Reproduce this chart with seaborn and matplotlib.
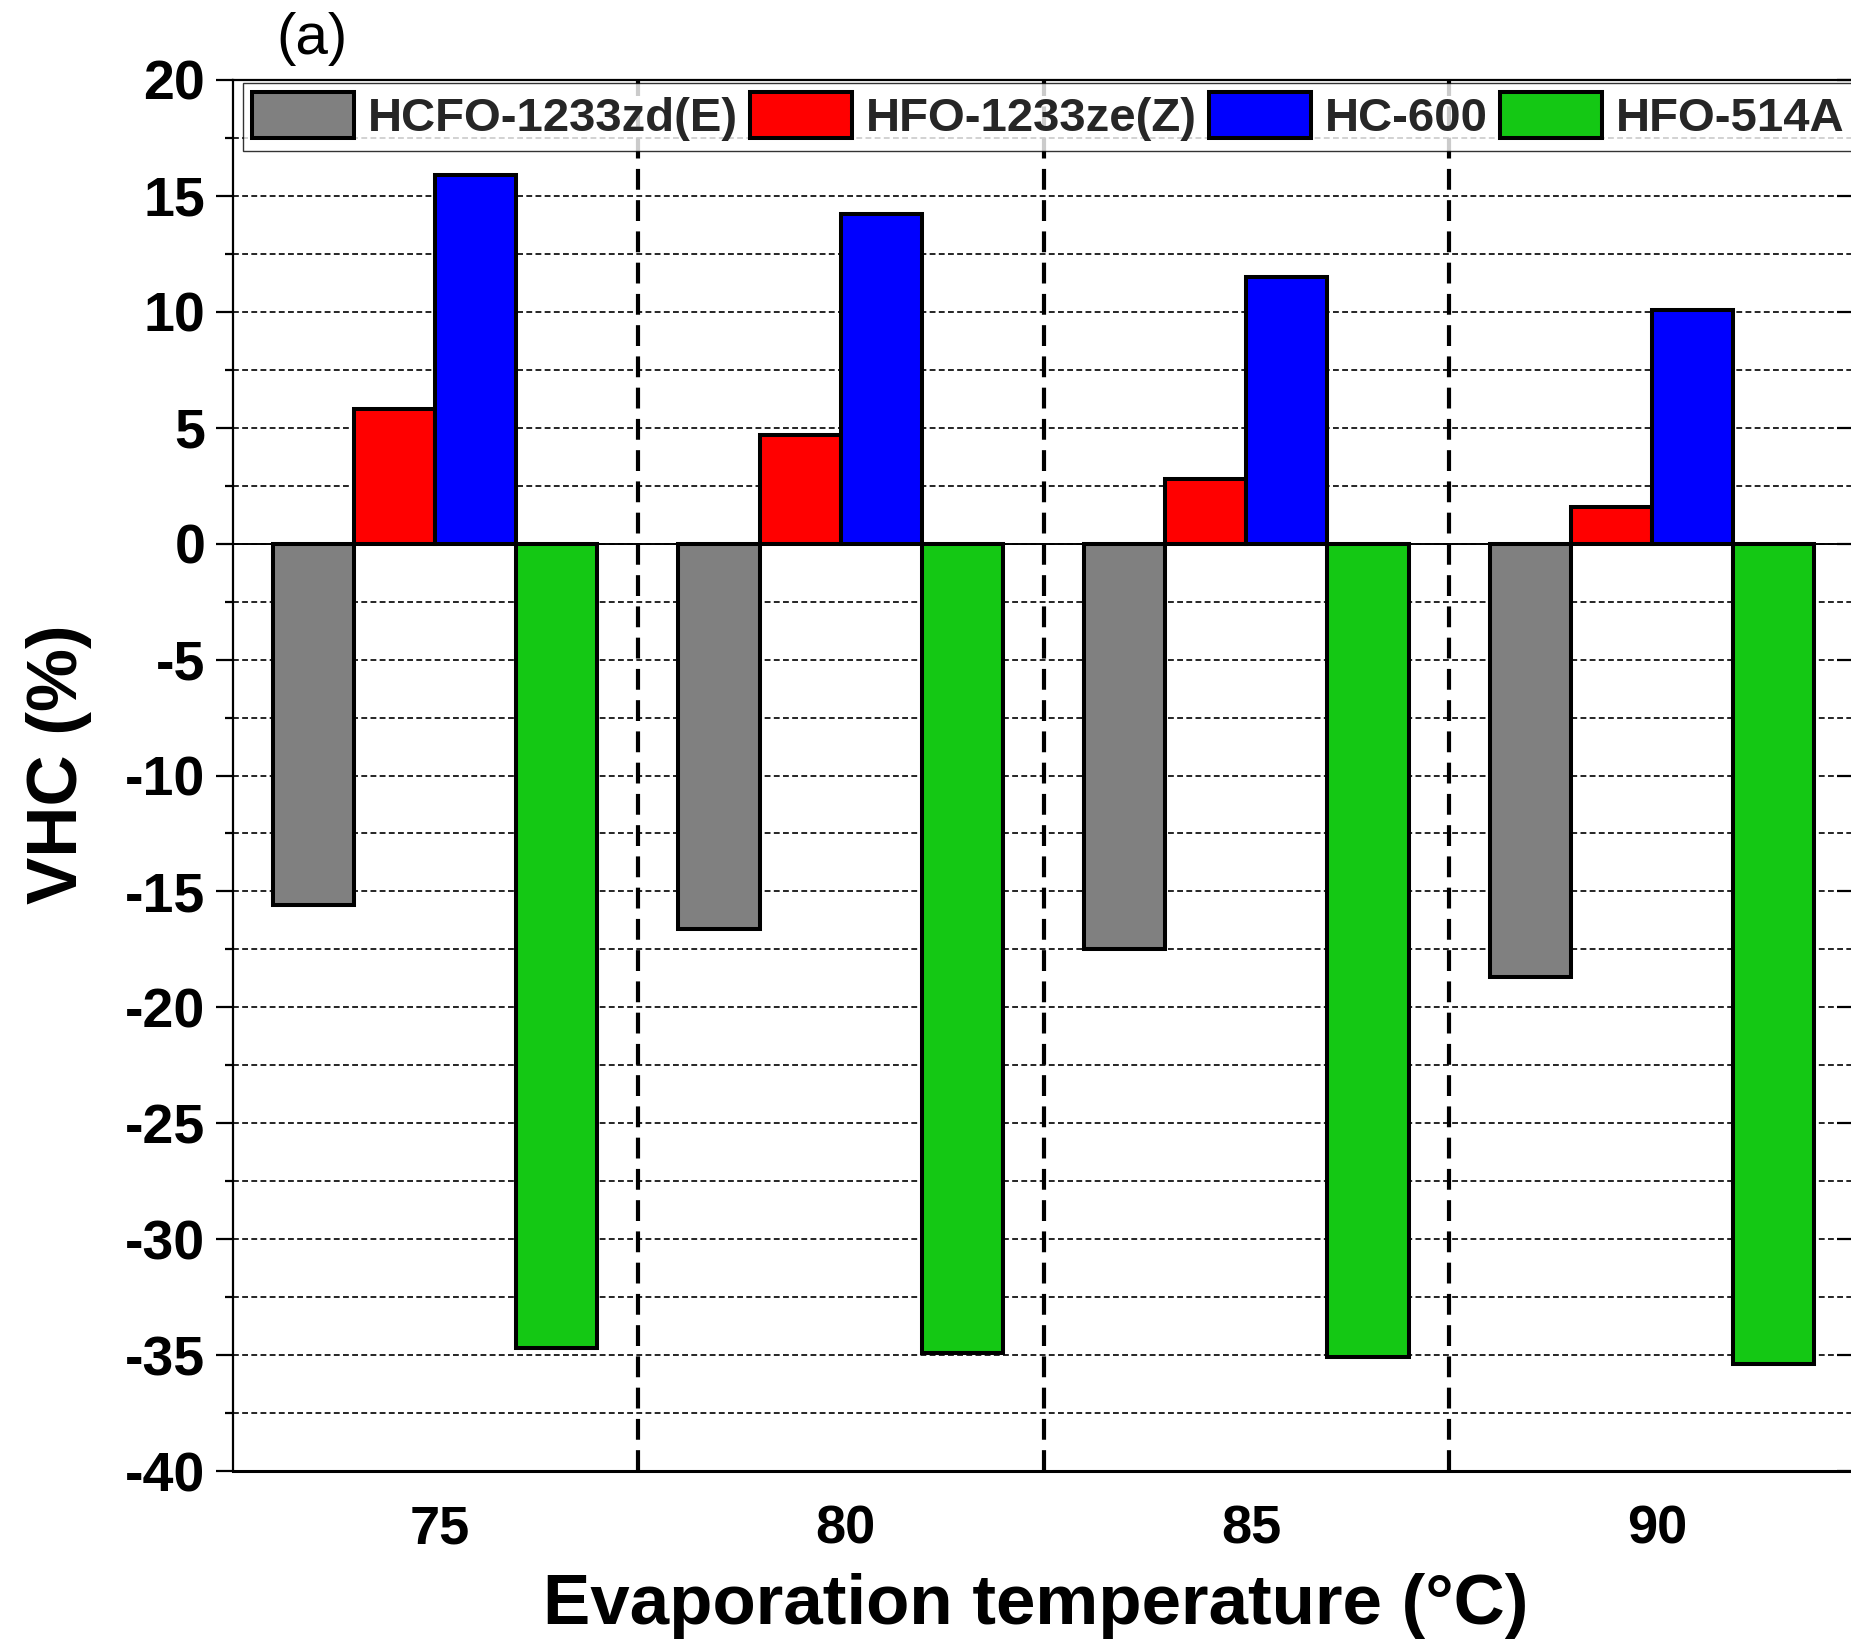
import matplotlib
matplotlib.use("Agg")
import matplotlib.pyplot as plt
import matplotlib.transforms as mtransforms
import seaborn as sns
import pandas as pd
from matplotlib.ticker import MultipleLocator

# Evaporation temperatures (°C) and refrigerants compared against the baseline
temperatures = ["75", "80", "85", "90"]
refrigerants = ["HCFO-1233zd(E)", "HFO-1233ze(Z)", "HC-600", "HFO-514A"]

# Relative volumetric heating capacity (%)
vhc_hcfo_1233zd_e = [-15.6, -16.6, -17.5, -18.7]
vhc_hfo_1233ze_z = [5.8, 4.7, 2.8, 1.6]
vhc_hc_600 = [15.9, 14.2, 11.5, 10.1]
vhc_hfo_514a = [-34.7, -34.9, -35.1, -35.4]

bar_colors = ["#808080", "#FF0000", "#0000FF", "#14C814"]

series = [vhc_hcfo_1233zd_e, vhc_hfo_1233ze_z, vhc_hc_600, vhc_hfo_514a]
rows = []
for name, values in zip(refrigerants, series):
    for t, v in zip(temperatures, values):
        rows.append({"temp": t, "vhc": v, "refrigerant": name})
df = pd.DataFrame(rows)

sns.set_theme(style="white")
plt.rcParams["font.family"] = ["Liberation Sans", "DejaVu Sans"]
plt.rcParams["font.weight"] = "bold"
plt.rcParams["axes.labelweight"] = "bold"
plt.rcParams["axes.unicode_minus"] = False

fig = plt.figure(figsize=(18.51, 16.43), dpi=100)
ax = fig.add_axes([233 / 1851, 1 - 1471 / 1643, 1621 / 1851, (1471 - 80) / 1643])

sns.barplot(
    data=df, x="temp", y="vhc", hue="refrigerant",
    order=temperatures, hue_order=refrigerants,
    palette=bar_colors, saturation=1, width=0.8,
    edgecolor="black", linewidth=2.9, errorbar=None, ax=ax, zorder=3,
)

ax.set_xlim(-0.498, 3.498)
ax.set_ylim(-40, 20)
ax.yaxis.set_major_locator(MultipleLocator(5))
ax.yaxis.set_minor_locator(MultipleLocator(2.5))

# dashed horizontal grid at every 2.5 %, solid zero line
ax.set_axisbelow(True)
ax.yaxis.grid(True, which="both", color="black", lw=1.2, ls=(0, (3.5, 2)))
ax.xaxis.grid(False)
ax.axhline(0, color="black", lw=1.4, zorder=2)

# dashed separators between temperature groups
for xs in [0.5, 1.5, 2.5]:
    ax.axvline(xs, color="black", lw=3.0, ls=(0, (5, 2.5)), zorder=2)

for side, lw in [("left", 1.6), ("bottom", 2.2), ("top", 1.6), ("right", 1.6)]:
    ax.spines[side].set_visible(True)
    ax.spines[side].set_color("black")
    ax.spines[side].set_linewidth(lw)

ax.tick_params(axis="y", which="major", direction="out", length=12, width=1.6,
               labelsize=40, pad=8, left=True, color="black", labelcolor="black")
ax.tick_params(axis="y", which="minor", direction="out", length=6, width=1.6,
               left=True, color="black")
ax.tick_params(axis="x", which="both", length=0, labelsize=39, pad=24,
               labelcolor="black")
shift = mtransforms.ScaledTranslation(5 / 100, 0, fig.dpi_scale_trans)
for lbl in ax.get_xticklabels():
    lbl.set_transform(lbl.get_transform() + shift)

sec = ax.secondary_yaxis("right")
sec.yaxis.set_major_locator(MultipleLocator(5))
sec.tick_params(direction="in", length=12, width=1.6, labelright=False, color="black")
sec.spines["right"].set_visible(False)

ax.set_xlabel("Evaporation temperature (°C)", fontsize=51, color="black")
ax.set_ylabel("VHC (%)", fontsize=51, color="black")
ax.xaxis.set_label_coords(0.495, -0.073)
ax.yaxis.set_label_coords(-0.087, 0.508)

handles, labels = ax.get_legend_handles_labels()
leg = ax.legend(
    handles, labels, loc="upper left", bbox_to_anchor=(0.006, 0.998),
    ncol=4, fontsize=34, frameon=True, fancybox=False, edgecolor="black",
    borderaxespad=0, borderpad=0.2, handlelength=2.15, handleheight=1.13,
    handletextpad=0.3, columnspacing=0.26,
)
leg.get_frame().set_linewidth(1.0)
leg.set_zorder(10)

fig.text(276 / 1851, 1 - 39 / 1643, "(a)", fontsize=42, fontweight="normal",
         ha="left", va="center", color="black")

fig.savefig("out.png", dpi=100)
